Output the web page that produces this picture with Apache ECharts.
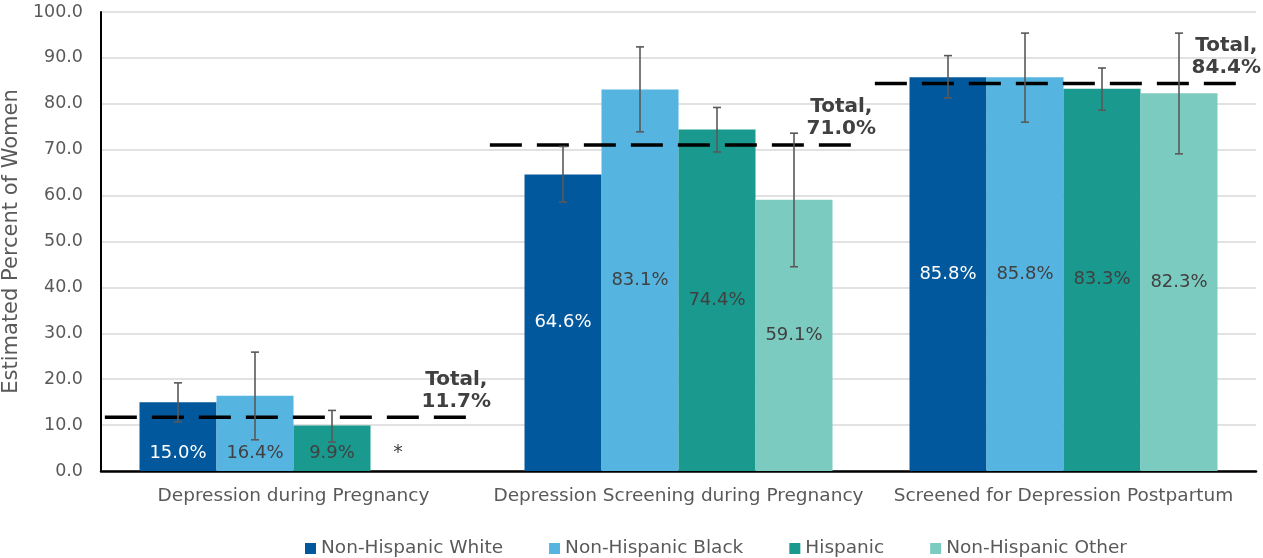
<!DOCTYPE html>
<html>
<head>
<meta charset="utf-8">
<script src="https://cdn.jsdelivr.net/npm/echarts@6/dist/echarts.min.js"></script>
<style>
  html, body { margin: 0; padding: 0; background: #fff; }
  #chart { width: 1263px; height: 558px; }
</style>
</head>
<body>
<div id="chart"></div>
<script>
const categories = ['Depression during Pregnancy', 'Depression Screening during Pregnancy', 'Screened for Depression Postpartum'];
const seriesNames = ['Non-Hispanic White', 'Non-Hispanic Black', 'Hispanic', 'Non-Hispanic Other'];

const whiteVals = [15.0, 64.6, 85.8];
const blackVals = [16.4, 83.1, 85.8];
const hispanicVals = [9.9, 74.4, 83.3];
const otherVals = [null, 59.1, 82.3];

// 95% confidence intervals [low, high]
const whiteErr = [[10.7, 19.2], [58.6, 70.7], [81.3, 90.5]];
const blackErr = [[6.8, 25.9], [73.9, 92.4], [76.0, 95.4]];
const hispanicErr = [[6.3, 13.2], [69.5, 79.2], [78.6, 87.8]];
const otherErr = [null, [44.5, 73.6], [69.1, 95.4]];

const totals = [11.7, 71.0, 84.4];

const colors = ['#02589d', '#56b5e0', '#1a998f', '#7ccbc0'];
const labelColors = ['#ffffff', '#404040', '#404040', '#404040'];
const textGray = '#595959';
const font = 'DejaVu Sans';

const chart = echarts.init(document.getElementById('chart'));

const allVals = [whiteVals, blackVals, hispanicVals, otherVals];
const allErr = [whiteErr, blackErr, hispanicErr, otherErr];

const barSeries = allVals.map((vals, j) => ({
  name: seriesNames[j],
  type: 'bar',
  barGap: '0%',
  barCategoryGap: '20%',
  itemStyle: { color: colors[j] },
  label: {
    show: true,
    position: 'inside',
    color: labelColors[j],
    fontFamily: font,
    fontSize: 18,
    formatter: (p) => p.value.toFixed(1) + '%'
  },
  data: vals.map((v) => {
    if (v === null) {
      return { value: 0, label: { show: true, position: 'top', distance: 8, offset: [-11, 0], color: '#404040', fontSize: 19, formatter: '*' } };
    }
    // short bars: Excel pushes the label towards the base
    if (v < 20) return { value: v, label: { position: 'insideBottom', distance: 9 } };
    return v;
  })
}));

const errData = [];
allErr.forEach((errs, j) => {
  errs.forEach((e, i) => {
    if (e) errData.push([i, j, e[0], e[1]]);
  });
});

const errSeries = {
  type: 'custom',
  name: 'err',
  z: 5,
  renderItem: (params, api) => {
    const cx = api.coord([api.value(0), 0])[0];
    const band = api.size([1, 0])[0];
    const barW = band * 0.8 / 4;
    const x = cx + (api.value(1) - 1.5) * barW;
    const yLo = api.coord([api.value(0), api.value(2)])[1];
    const yHi = api.coord([api.value(0), api.value(3)])[1];
    const cap = 4;
    const style = { stroke: '#595959', lineWidth: 1.6 };
    return {
      type: 'group',
      children: [
        { type: 'line', shape: { x1: x, y1: yLo, x2: x, y2: yHi }, style },
        { type: 'line', shape: { x1: x - cap, y1: yLo, x2: x + cap, y2: yLo }, style },
        { type: 'line', shape: { x1: x - cap, y1: yHi, x2: x + cap, y2: yHi }, style }
      ]
    };
  },
  encode: { x: 0, y: [2, 3] },
  data: errData
};

const totalSeries = totals.map((t, i) => ({
  type: 'line',
  xAxisIndex: 1,
  z: 4,
  symbol: 'circle',
  symbolSize: 0,
  showSymbol: true,
  lineStyle: { color: '#000', width: 3.5, type: [32, 15] },
  itemStyle: { color: 'transparent' },
  data: [
    { value: [i + 0.01, t] },
    {
      value: [i + 0.98, t],
      label: {
        show: true,
        position: [-22, -5],
        align: 'center',
        verticalAlign: 'bottom',
        fontFamily: font,
        fontSize: 20,
        fontWeight: 'bold',
        lineHeight: 22,
        color: '#404040',
        formatter: 'Total,\n' + t.toFixed(1) + '%'
      }
    }
  ],
  silent: true
}));

chart.setOption({
  animation: false,
  textStyle: { fontFamily: font },
  grid: { left: 101, right: 7, top: 12, bottom: 87, outerBoundsMode: 'none' },
  legend: {
    data: seriesNames,
    left: 300,
    top: 534,
    icon: 'rect',
    itemWidth: 11,
    itemHeight: 11,
    itemGap: 46,
    textStyle: { color: textGray, fontSize: 18.5, fontFamily: font }
  },
  xAxis: [
    {
      type: 'category',
      data: categories,
      axisLine: { lineStyle: { color: '#000', width: 2.5 } },
      axisTick: { show: false },
      axisLabel: { color: textGray, fontSize: 18.5, margin: 16, interval: 0, fontFamily: font }
    },
    { type: 'value', min: 0, max: 3, show: false }
  ],
  yAxis: {
    type: 'value',
    min: 0,
    max: 100,
    interval: 10,
    name: 'Estimated Percent of Women',
    nameLocation: 'middle',
    nameGap: 76,
    nameTextStyle: { color: textGray, fontSize: 21, fontFamily: font },
    axisLine: { show: true, lineStyle: { color: '#000', width: 2 } },
    axisTick: { show: false },
    axisLabel: { color: textGray, fontSize: 17.5, margin: 18, fontFamily: font, formatter: (v) => v.toFixed(1) },
    splitLine: { lineStyle: { color: '#d9d9d9', width: 1.5 } }
  },
  series: [...barSeries, errSeries, ...totalSeries]
});
</script>
</body>
</html>
